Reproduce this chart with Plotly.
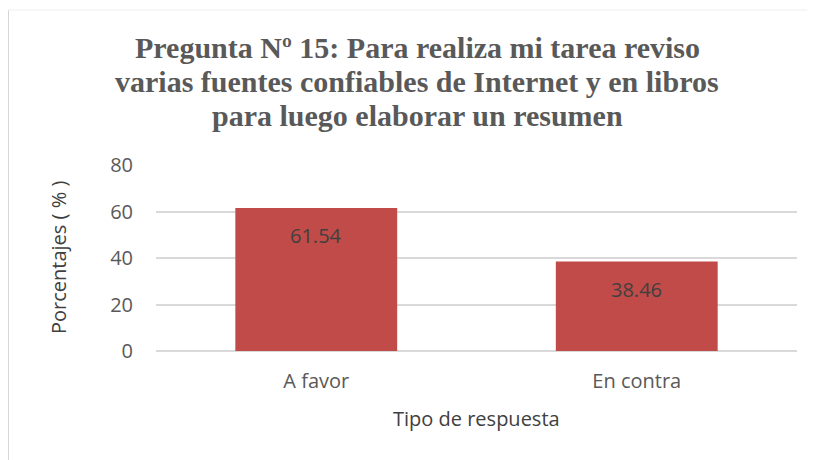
import plotly.graph_objects as go

categories = ["A favor", "En contra"]
values = [61.54, 38.46]
value_labels = ["61.54", "38.46"]
y_ticks = [0, 20, 40, 60, 80]

title_lines = ["Pregunta Nº 15: Para realiza mi tarea reviso",
               "varias fuentes confiables de Internet y en libros",
               "para luego elaborar un resumen"]
y_title = "Porcentajes ( % )"
x_title = "Tipo de respuesta"

# page body adds an 8px offset; work in screen coordinates and subtract it
OFF = 8
W, H = 815 - OFF, 460 - OFF
L = 156 - OFF
T = 165 - OFF
R = W - (797 - OFF)
B = H - (351 - OFF)
pw, ph = W - L - R, H - T - B

def px_x(x):
    return (x - OFF - L) / pw

def px_y(y):
    return (H - B - (y - OFF)) / ph

fig = go.Figure()
fig.add_trace(go.Bar(
    x=categories, y=values,
    marker=dict(color="#c14b48", line=dict(width=0)),
    width=0.505,
    hoverinfo="skip",
))

annotations = []
for c, v, t in zip(categories, values, value_labels):
    annotations.append(dict(
        x=c, y=v, xref="x", yref="y", text=t, showarrow=False,
        yshift=-28, font=dict(family="Open Sans", size=20, color="#404040"),
    ))
annotations.append(dict(
    x=px_x(58), y=0.5, xref="paper", yref="paper", text=y_title,
    textangle=-90, showarrow=False, xanchor="center", yanchor="middle",
    font=dict(family="Open Sans", size=20, color="#404040"),
))
annotations.append(dict(
    x=0.5, y=px_y(418), xref="paper", yref="paper", text=x_title,
    showarrow=False, xanchor="center", yanchor="middle",
    font=dict(family="Open Sans", size=20, color="#404040"),
))
for line, yc in zip(title_lines, [48, 82, 115]):
    annotations.append(dict(
        x=px_x(417), y=px_y(yc), xref="paper", yref="paper", text=line,
        showarrow=False, xanchor="center", yanchor="middle",
        font=dict(family="Liberation Serif", size=30, color="#595959", weight="bold"),
    ))

shapes = [
    dict(type="line", xref="paper", yref="paper",
         x0=px_x(8), x1=px_x(8), y0=px_y(10), y1=px_y(470),
         line=dict(color="#d6d6d6", width=2)),
    dict(type="line", xref="paper", yref="paper",
         x0=px_x(8), x1=px_x(830), y0=px_y(10), y1=px_y(10),
         line=dict(color="#eeeeee", width=1)),
]

fig.update_layout(
    width=W, height=H,
    margin=dict(l=L, r=R, t=T, b=B),
    paper_bgcolor="white", plot_bgcolor="white",
    showlegend=False,
    annotations=annotations,
    shapes=shapes,
    bargap=0.495,
)
fig.update_xaxes(
    showgrid=False, showline=False, zeroline=False,
    tickfont=dict(family="Open Sans", size=20, color="#595959"),
    ticklabelstandoff=16,
)
fig.update_yaxes(
    range=[0, 80], tickvals=y_ticks,
    showgrid=True, gridcolor="#d9d9d9", gridwidth=1.5,
    zeroline=True, zerolinecolor="#d9d9d9", zerolinewidth=1.5,
    showline=False,
    tickfont=dict(family="Open Sans", size=20, color="#595959"),
    ticklabelstandoff=22,
)

fig.write_html("out.html")
